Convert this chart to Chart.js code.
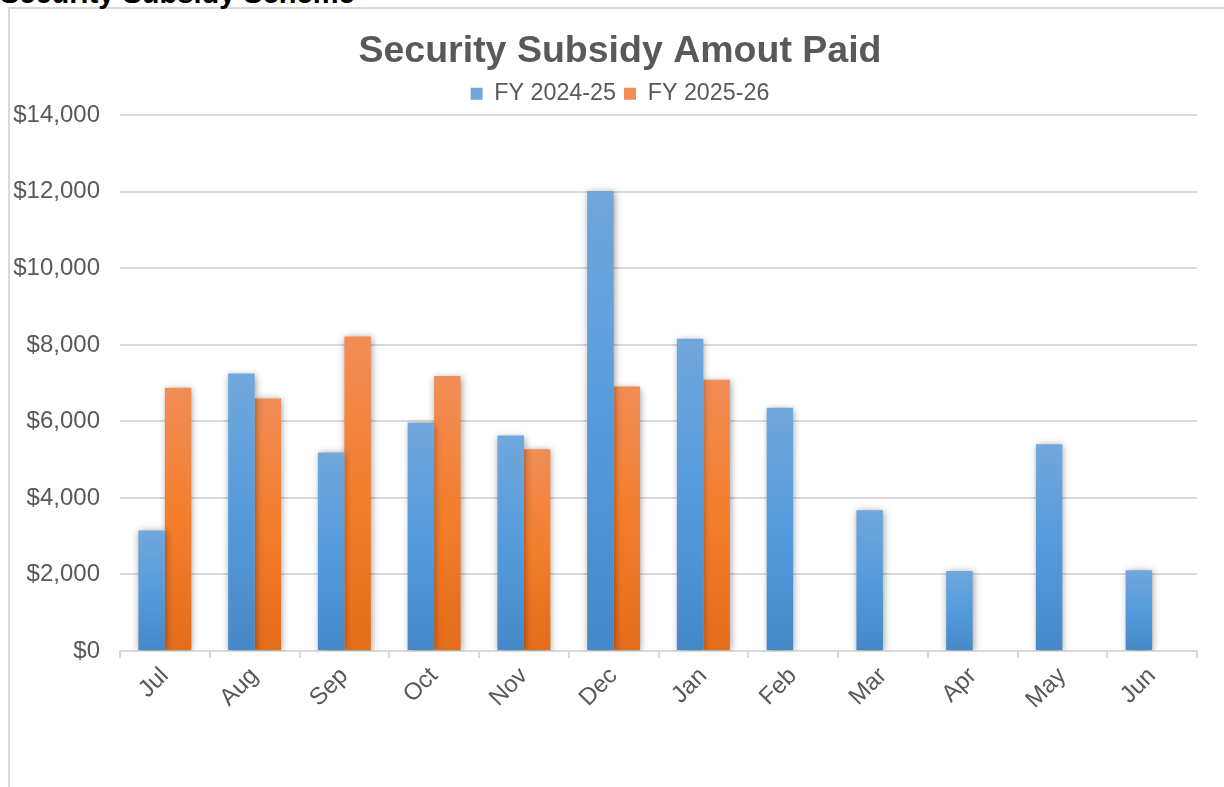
<!DOCTYPE html>
<html>
<head>
<meta charset="utf-8">
<script src="https://cdn.jsdelivr.net/npm/chart.js@4/dist/chart.umd.min.js"></script>
<style>
  html, body { margin: 0; padding: 0; background: #ffffff; }
  #wrap { position: relative; width: 1224px; height: 787px; overflow: hidden; background: #fff; }
  #frame { position: absolute; left: 8px; top: 7px; width: 1300px; height: 900px; border: 2px solid #d9d9d9; box-sizing: border-box; }
  #heading { position: absolute; left: 0px; top: -21px; font: bold 29px/29px "Liberation Sans", Arial, sans-serif; color: #000; white-space: nowrap; }
  #c { position: absolute; left: 0; top: 0; }
</style>
</head>
<body>
<div id="wrap">
  <div id="frame"></div>
  <div id="heading">Security Subsidy Scheme</div>
  <canvas id="c" width="1240" height="787"></canvas>
</div>
<script>
const chartTitle = "Security Subsidy Amout Paid";
const months = ["Jul", "Aug", "Sep", "Oct", "Nov", "Dec", "Jan", "Feb", "Mar", "Apr", "May", "Jun"];
const seriesNames = ["FY 2024-25", "FY 2025-26"];
const fy2024_25 = [3150, 7250, 5190, 5970, 5630, 12020, 8160, 6360, 3680, 2090, 5400, 2110];
const fy2025_26 = [6880, 6600, 8220, 7190, 5270, 6910, 7090, null, null, null, null, null];
const yTicks = [0, 2000, 4000, 6000, 8000, 10000, 12000, 14000];

const blueStops = ["#71a7dc", "#559bdc", "#4588c7"];
const orangeStops = ["#f18d57", "#f37e2c", "#e46c1b"];

function barGradient(stops) {
  return function (c) {
    const chart = c.chart;
    if (c.type !== 'data' || !chart.chartArea || c.raw == null) return stops[1];
    const ys = chart.scales.y;
    const top = ys.getPixelForValue(c.raw);
    const base = ys.getPixelForValue(0);
    if (!isFinite(top) || !isFinite(base) || top === base) return stops[1];
    const g = chart.ctx.createLinearGradient(0, top, 0, base);
    g.addColorStop(0, stops[0]);
    g.addColorStop(0.5, stops[1]);
    g.addColorStop(1, stops[2]);
    return g;
  };
}

const shadowPlugin = {
  id: 'barShadow',
  beforeDatasetsDraw(chart) {
    const ctx = chart.ctx;
    ctx.save();
    ctx.shadowColor = 'rgba(0,0,0,0.38)';
    ctx.shadowBlur = 7;
    ctx.shadowOffsetX = 1;
    ctx.shadowOffsetY = 1;
  },
  afterDatasetsDraw(chart) {
    chart.ctx.restore();
  }
};

const fontFamily = '"Liberation Sans", Arial, Helvetica, sans-serif';
const textColor = '#595959';

new Chart(document.getElementById('c'), {
  type: 'bar',
  data: {
    labels: months,
    datasets: [
      { label: seriesNames[0], data: fy2024_25, backgroundColor: barGradient(blueStops), borderWidth: 0 },
      { label: seriesNames[1], data: fy2025_26, backgroundColor: barGradient(orangeStops), borderWidth: 0 }
    ]
  },
  options: {
    responsive: false,
    animation: false,
    devicePixelRatio: 1,
    layout: { padding: 0 },
    datasets: { bar: { categoryPercentage: 0.59, barPercentage: 1.0 } },
    plugins: {
      tooltip: { enabled: false },
      title: {
        display: true,
        text: chartTitle,
        color: textColor,
        font: { family: fontFamily, size: 37.5, weight: 'bold' },
        padding: { top: 29, bottom: 0 }
      },
      legend: {
        display: true,
        position: 'top',
        labels: {
          color: textColor,
          font: { family: fontFamily, size: 23.3 },
          boxWidth: 12,
          boxHeight: 12,
          padding: 8
        }
      }
    },
    scales: {
      x: {
        grid: {
          display: true,
          drawOnChartArea: false,
          drawTicks: true,
          tickLength: 7,
          color: '#d9d9d9',
          lineWidth: 2
        },
        border: { display: true, color: '#d9d9d9', width: 2 },
        ticks: {
          color: textColor,
          font: { family: fontFamily, size: 24 },
          minRotation: 45,
          maxRotation: 45,
          padding: 4,
          autoSkip: false
        },
        afterFit(s) { s.height = 136; }
      },
      y: {
        min: 0,
        max: 14000,
        afterBuildTicks(s) { s.ticks = yTicks.map(v => ({ value: v })); },
        grid: { color: '#d9d9d9', lineWidth: 2, drawTicks: false },
        border: { display: false },
        ticks: {
          color: textColor,
          font: { family: fontFamily, size: 24 },
          padding: 20,
          callback: v => '$' + Number(v).toLocaleString('en-US')
        },
        afterFit(s) { s.width = 120; }
      },
      yRightSpace: {
        type: 'linear',
        position: 'right',
        display: true,
        grid: { display: false, drawTicks: false },
        border: { display: false },
        ticks: { display: false },
        afterFit(s) { s.width = 43; }
      }
    }
  },
  plugins: [shadowPlugin]
});
</script>
</body>
</html>
